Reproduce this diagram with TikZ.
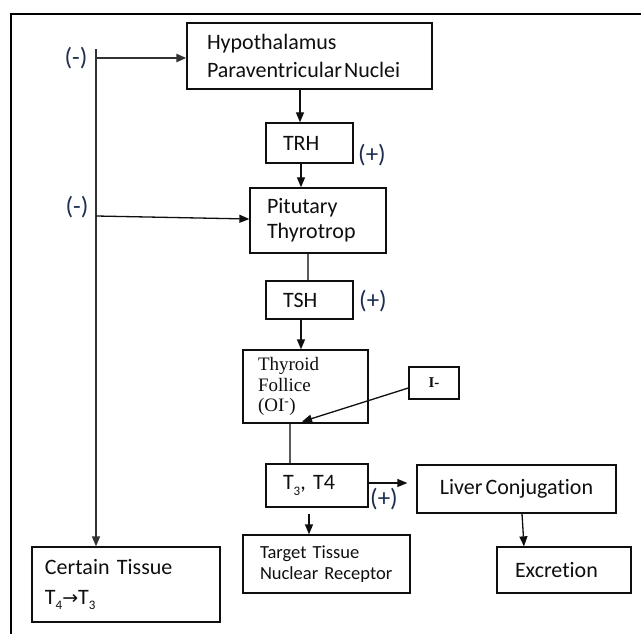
\documentclass[tikz,border=0pt]{standalone}
\usepackage{fontspec}
\setmainfont{Carlito}[Ligatures=NoCommon]
\newfontfamily\serifface{Liberation Serif}
\newfontfamily\symface{DejaVu Sans}
\usetikzlibrary{arrows.meta,calc}

\definecolor{ink}{RGB}{15,15,15}
\definecolor{signcol}{RGB}{30,45,80}
\definecolor{wire}{RGB}{90,90,90}
\definecolor{fbwire}{RGB}{50,50,50}

% small lowered index, as in T3 / T4
\newcommand\lowsub[1]{\raisebox{-0.25em}{\fontsize{13}{13}\selectfont #1}}

\begin{document}
\begin{tikzpicture}[x=1pt,y=-1pt,
  box/.style={draw=ink, line width=1.3pt, rectangle, text=ink,
              font=\fontsize{22}{28}\selectfont},
  arr/.style={draw=ink, line width=1.3pt, -{Triangle[length=10pt,width=8pt]}},
  link/.style={draw=wire, line width=1.5pt},
  sign/.style={font=\fontsize{25}{25}\selectfont, text=signcol, inner sep=0pt}]
\useasboundingbox (0,0) rectangle (641,634);
\fill[white] (0,0) rectangle (641,634);

% outer frame (top and left edges)
\draw[line width=2.6pt, black] (11,634) -- (11,14) -- (641,14);

% boxes
\node[box, minimum width=245, minimum height=66, inner xsep=20, text width=205, align=left]
  (hyp) at (309.5,56) {Hypothalamus\\\mbox{Paraventricular\hspace{2pt}Nuclei}};
\node[box, minimum width=87, minimum height=40, inner xsep=17, text width=53, align=left]
  (trh) at (309.5,143) {TRH};
\node[box, minimum width=136, minimum height=65, inner xsep=17, text width=102, align=left,
      font=\fontsize{22}{25}\selectfont]
  (pit) at (318,220.5) {Pitutary\\Thyrotrop};
\node[box, minimum width=87, minimum height=38, inner xsep=17, text width=53, align=left]
  (tsh) at (309.5,300) {TSH};
\node[box, minimum width=125, minimum height=73, inner xsep=15, text width=95, align=left,
      font=\serifface\fontsize{19}{20.5}\selectfont]
  (thy) at (305.5,386.5) {Thyroid\\Follice\\(OI\textsuperscript{-})};
\node[box, minimum width=50, minimum height=32, inner sep=0pt,
      font=\serifface\bfseries\fontsize{15}{15}\selectfont]
  (iod) at (434,383) {I-};
\node[box, minimum width=102, minimum height=43, inner xsep=17, text width=68, align=left]
  (t34) at (317,485.5) {\mbox{T\lowsub{3}, T4}};
\node[box, minimum width=199, minimum height=48, inner sep=0pt]
  (liv) at (516.5,489) {\mbox{Liver\hspace{3pt}Conjugation}};
\node[box, minimum width=134, minimum height=46, inner xsep=18, text width=98, align=left]
  (exc) at (564,570) {Excretion};
\node[box, minimum width=167, minimum height=58, inner xsep=17, text width=133, align=left,
      font=\fontsize{18.5}{21}\selectfont]
  (tgt) at (326.5,564) {\mbox{Target Tissue}\\\mbox{Nuclear Receptor}};
\node[box, minimum width=188, minimum height=75, inner xsep=13, text width=162, align=left,
      font=\fontsize{22}{30}\selectfont]
  (cer) at (126,584.5) {\mbox{Certain Tissue}\\\mbox{T\lowsub{4}{\symface\fontsize{19}{19}\selectfont →}T\lowsub{3}}};

% main chain
\draw[arr] ($(hyp.south)+(-9.5,0)$) -- ($(trh.north)+(-9.5,0)$);
\draw[arr] ($(trh.south)+(-8.5,0)$) -- ($(pit.north)+(-17,0)$);
\draw[link] ($(pit.south)+(-10,0)$) -- ($(tsh.north)+(-1.5,0)$);
\draw[arr] ($(tsh.south)+(-8.5,0)$) -- ($(thy.north)+(-4.5,0)$);
\draw[arr] ($(iod.west)+(0,5)$) -- ($(thy.south)+(-3.5,-2)$);
\draw[link] ($(thy.south)+(-15.5,0)$) -- ($(t34.north)+(-27,0)$);
\draw[arr] ($(t34.east)+(0,-2.5)$) -- ($(liv.west)+(-9,-6)$);
\draw[arr] ($(liv.south)+(5.5,0)$) -- ($(exc.north)+(-40,0)$);
\draw[arr] ($(t34.south)+(-8,6)$) -- ($(tgt.north)+(-17.5,0)$);

% feedback loop
\coordinate (fbtop) at (96,49);
\coordinate (fbA) at (96,58);
\coordinate (fbB) at (96,216);
\draw[arr, draw=fbwire] (fbtop) -- ($(cer.north)+(-30,0)$);
\draw[arr, draw=fbwire, line width=2.3pt] (fbA) -- (fbA -| hyp.west);
\draw[arr] (fbB) -- ($(pit.west)+(0,-1.5)$);

% signs
\node[sign] (m1) at (76,58) {(-)};
\node[sign] (m2) at (77,207) {(-)};
\node[sign] (p1) at (372,155) {(+)};
\node[sign] (p2) at (373,301) {(+)};
\node[sign] (p3) at (384,499) {(+)};
\end{tikzpicture}
\end{document}
